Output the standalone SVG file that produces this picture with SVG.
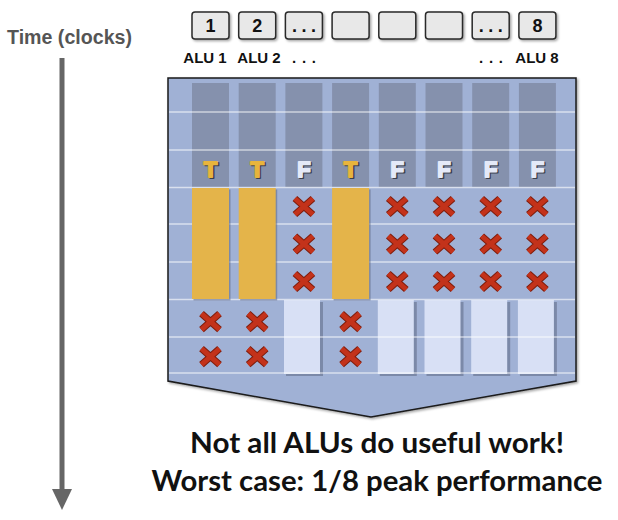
<svg xmlns="http://www.w3.org/2000/svg" width="618" height="520" viewBox="0 0 618 520">
<style>
.box{fill:#e8e8e8;stroke:#2a2a2a;stroke-width:1.5}
.boxt{font-family:"Liberation Sans",Arial,sans-serif;font-weight:bold;font-size:18px;fill:#111;text-anchor:middle}
.alu{font-family:"Liberation Sans",Arial,sans-serif;font-weight:bold;font-size:15px;fill:#111;text-anchor:middle}
.dark{fill:#8591ad}
.hl{stroke:#ffffff;stroke-opacity:0.6;stroke-width:1.6}
.yel{fill:#e4b44a}
.lit{fill:#d8e0f5}
.sh{fill:#5d6784;opacity:0.55}
.xo{stroke:#7e1d0c;stroke-width:7;stroke-linecap:butt;fill:none}
.xi{stroke:#c3321a;stroke-width:5;stroke-linecap:butt;fill:none}
.tf{font-family:"Liberation Sans",Arial,sans-serif;font-weight:bold;font-size:22px;text-anchor:middle;stroke-width:1.8;stroke-linejoin:round}
.ts{fill:#3a3f4c;stroke:#3a3f4c}
.tt{fill:#e8b43c;stroke:#e8b43c}
.tF{fill:#e4e9f8;stroke:#e4e9f8}
.big{font-family:Lato,"Open Sans",sans-serif;font-weight:bold;font-size:29px;fill:#111;text-anchor:middle}
</style>
<defs>
<filter id="ds" x="-10%" y="-10%" width="130%" height="130%">
<feDropShadow dx="1.5" dy="1.5" stdDeviation="0.8" flood-color="#000" flood-opacity="0.35"/>
</filter>
<g id="xm"><path class="xo" d="M-9,-8 L9,8 M9,-8 L-9,8"/><path class="xi" d="M-9,-8 L9,8 M9,-8 L-9,8"/></g>
</defs>

<g id="time-axis">
<text x="7" y="44" font-family="Liberation Sans,Arial,sans-serif" font-weight="bold" font-size="19.5" fill="#555" textLength="125" lengthAdjust="spacingAndGlyphs">Time (clocks)</text>
<line x1="62" y1="58" x2="62" y2="490" stroke="#666" stroke-width="5"/>
<polygon points="52,489 72,489 62,510" fill="#666"/>
</g>

<g id="alus">
<g id="alu1"><rect class="box" x="192" y="12" width="37" height="27" rx="3" filter="url(#ds)"/><text class="boxt" x="210.5" y="32">1</text><text class="alu" x="205" y="63">ALU 1</text></g>
<g id="alu2"><rect class="box" x="238.7" y="12" width="37" height="27" rx="3" filter="url(#ds)"/><text class="boxt" x="257.2" y="32">2</text><text class="alu" x="259" y="63">ALU 2</text></g>
<g id="alu3"><rect class="box" x="285.4" y="12" width="37" height="27" rx="3" filter="url(#ds)"/><text class="boxt" x="303.9" y="32" textLength="24" lengthAdjust="spacing">. . .</text><text class="alu" x="304" y="63" textLength="24" lengthAdjust="spacing">. . .</text></g>
<g id="alu4"><rect class="box" x="332.1" y="12" width="37" height="27" rx="3" filter="url(#ds)"/></g>
<g id="alu5"><rect class="box" x="378.8" y="12" width="37" height="27" rx="3" filter="url(#ds)"/></g>
<g id="alu6"><rect class="box" x="425.5" y="12" width="37" height="27" rx="3" filter="url(#ds)"/></g>
<g id="alu7"><rect class="box" x="472.2" y="12" width="37" height="27" rx="3" filter="url(#ds)"/><text class="boxt" x="490.7" y="32" textLength="24" lengthAdjust="spacing">. . .</text><text class="alu" x="491" y="63" textLength="24" lengthAdjust="spacing">. . .</text></g>
<g id="alu8"><rect class="box" x="518.9" y="12" width="37" height="27" rx="3" filter="url(#ds)"/><text class="boxt" x="537.4" y="32">8</text><text class="alu" x="537" y="63">ALU 8</text></g>
</g>

<g id="panel">
<polygon points="168,78 576,78 576,381 371,417 168,381" fill="#a0b1d5" stroke="#1a1a1a" stroke-width="1.5" filter="url(#ds)"/>
<g id="dark-cols">
<rect class="dark" x="192" y="83" width="37" height="104"/>
<rect class="dark" x="238.7" y="83" width="37" height="104"/>
<rect class="dark" x="285.4" y="83" width="37" height="104"/>
<rect class="dark" x="332.1" y="83" width="37" height="104"/>
<rect class="dark" x="378.8" y="83" width="37" height="104"/>
<rect class="dark" x="425.5" y="83" width="37" height="104"/>
<rect class="dark" x="472.2" y="83" width="37" height="104"/>
<rect class="dark" x="518.9" y="83" width="37" height="104"/>
</g>
<g id="light-bars">
<rect class="sh" x="286" y="302" width="37" height="74"/><rect class="lit" x="284" y="300" width="36" height="74"/>
<rect class="sh" x="379.8" y="302" width="37" height="74"/><rect class="lit" x="377.8" y="300" width="36" height="74"/>
<rect class="sh" x="426.5" y="302" width="37" height="74"/><rect class="lit" x="424.5" y="300" width="36" height="74"/>
<rect class="sh" x="473.2" y="302" width="37" height="74"/><rect class="lit" x="471.2" y="300" width="36" height="74"/>
<rect class="sh" x="519.9" y="302" width="37" height="74"/><rect class="lit" x="517.9" y="300" width="36" height="74"/>
</g>
<g id="grid-lines">
<line class="hl" x1="169" y1="112" x2="575" y2="112"/>
<line class="hl" x1="169" y1="150" x2="575" y2="150"/>
<line class="hl" x1="169" y1="187.5" x2="575" y2="187.5"/>
<line class="hl" x1="169" y1="224" x2="575" y2="224"/>
<line class="hl" x1="169" y1="262" x2="575" y2="262"/>
<line class="hl" x1="169" y1="299.5" x2="575" y2="299.5"/>
<line class="hl" x1="169" y1="337" x2="575" y2="337"/>
<line class="hl" x1="169" y1="373" x2="575" y2="373"/>
</g>
<g id="yellow-bars">
<rect class="sh" x="193.5" y="189.5" width="37" height="111"/><rect class="yel" x="192" y="188" width="37" height="111"/>
<rect class="sh" x="240.2" y="189.5" width="37" height="111"/><rect class="yel" x="238.7" y="188" width="37" height="111"/>
<rect class="sh" x="333.6" y="189.5" width="37" height="111"/><rect class="yel" x="332.1" y="188" width="37" height="111"/>
</g>
<g id="masks">
<text class="tf ts" x="211.9" y="177.9">T</text><text class="tf tt" x="210.5" y="176.5">T</text>
<text class="tf ts" x="258.6" y="177.9">T</text><text class="tf tt" x="257.2" y="176.5">T</text>
<text class="tf ts" x="305.3" y="177.9">F</text><text class="tf tF" x="303.9" y="176.5">F</text>
<text class="tf ts" x="352" y="177.9">T</text><text class="tf tt" x="350.6" y="176.5">T</text>
<text class="tf ts" x="398.7" y="177.9">F</text><text class="tf tF" x="397.3" y="176.5">F</text>
<text class="tf ts" x="445.4" y="177.9">F</text><text class="tf tF" x="444" y="176.5">F</text>
<text class="tf ts" x="492.1" y="177.9">F</text><text class="tf tF" x="490.7" y="176.5">F</text>
<text class="tf ts" x="538.8" y="177.9">F</text><text class="tf tF" x="537.4" y="176.5">F</text>
</g>
<g id="crosses">
<use href="#xm" x="303.9" y="206.5"/><use href="#xm" x="303.9" y="244"/><use href="#xm" x="303.9" y="281.5"/>
<use href="#xm" x="397.3" y="206.5"/><use href="#xm" x="397.3" y="244"/><use href="#xm" x="397.3" y="281.5"/>
<use href="#xm" x="444" y="206.5"/><use href="#xm" x="444" y="244"/><use href="#xm" x="444" y="281.5"/>
<use href="#xm" x="490.7" y="206.5"/><use href="#xm" x="490.7" y="244"/><use href="#xm" x="490.7" y="281.5"/>
<use href="#xm" x="537.4" y="206.5"/><use href="#xm" x="537.4" y="244"/><use href="#xm" x="537.4" y="281.5"/>
<use href="#xm" x="210.5" y="321.7"/><use href="#xm" x="210.5" y="356.7"/>
<use href="#xm" x="257.2" y="321.7"/><use href="#xm" x="257.2" y="356.7"/>
<use href="#xm" x="350.6" y="321.7"/><use href="#xm" x="350.6" y="356.7"/>
</g>
</g>

<g id="caption">
<text class="big" x="377" y="453" textLength="374" lengthAdjust="spacingAndGlyphs">Not all ALUs do useful work!</text>
<text class="big" x="377" y="491" textLength="451" lengthAdjust="spacingAndGlyphs">Worst case: 1/8 peak performance</text>
</g>
</svg>
